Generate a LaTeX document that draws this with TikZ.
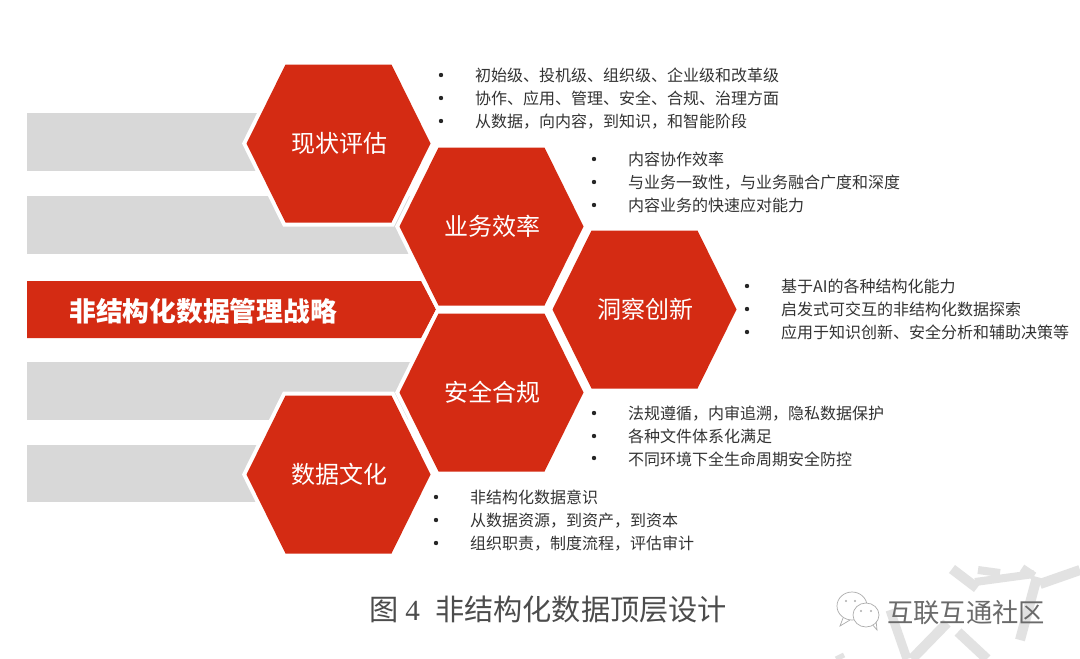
\documentclass[tikz,border=0pt]{standalone}
\usepackage{fontspec}
\setmainfont{Noto Sans CJK SC}
\newfontfamily\latinserif{Liberation Serif}
\definecolor{hexred}{HTML}{D42B13}
\definecolor{bargrey}{HTML}{D8D8D8}
\definecolor{txt}{HTML}{333333}
\definecolor{wm}{HTML}{E2E2E2}
\tikzset{
  x=1pt,y=-1pt,
  hexlabel/.style={text=white,font=\fontsize{24}{24}\selectfont,inner sep=0pt,anchor=center},
  bulletlist/.style={text=txt,font=\fontsize{16}{23}\selectfont,anchor=north west,align=left,inner sep=0pt,text width=#1},
  dotmark/.style={circle,fill=black!85,inner sep=0pt,minimum size=4.4pt},
  wmstroke/.style={draw=wm,line width=#1},
  logoline/.style={draw=gray!65,line width=.7pt,fill=white},
}
\newcommand{\hexpath}[2]{(#1-53,#2-79) -- (#1+53,#2-79) -- (#1+92,#2) -- (#1+53,#2+79) -- (#1-53,#2+79) -- (#1-92,#2) -- cycle}
\begin{document}
\begin{tikzpicture}
\useasboundingbox (0,0) rectangle (1080,659);
\fill[white] (0,0) rectangle (1080,659);
% watermark
\draw[wmstroke=10pt] (952,569) -- (977,588);
\draw[wmstroke=8pt] (978,570) -- (1000,573);
\draw[wmstroke=8pt] (975,582) -- (1034,574);
\draw[wmstroke=8pt] (1022,568) -- (1034,576);
\draw[wmstroke=10pt] (1040,584) -- (1080,570);
\draw[wmstroke=10pt] (1037,577) -- (1020,640);
\draw[wmstroke=9pt] (890,610) -- (907,659);
\draw[wmstroke=10pt] (947,623) -- (912,659);
\draw[wmstroke=10pt] (958,632) -- (987,659);
\draw[wmstroke=5pt] (836,659) -- (844,655);
% bars
\fill[bargrey] (27,113) rectangle (300,171);
\fill[bargrey] (27,196) rectangle (460,254);
\fill[hexred] (27,281) -- (421,281) -- (436,309.5) -- (421,338) -- (27,338) -- cycle;
\node[text=white,font=\fontsize{26.8}{26.8}\selectfont\bfseries,inner sep=0pt,anchor=west] (title) at (69,311) {非结构化数据管理战略};
\fill[bargrey] (27,362) rectangle (460,420);
\fill[bargrey] (27,445) rectangle (300,502);
% hexagons
\foreach \n/\cx/\cy/\lab in {a/338.5/143.5/现状评估, b/491.5/226.5/业务效率, c/644.5/309.5/洞察创新, d/491.5/392.5/安全合规, e/338.5/474.5/数据文化}{
  \draw[white,line width=8pt,line join=miter] \hexpath{\cx}{\cy};
}
\foreach \n/\cx/\cy/\lab in {a/338.5/143.5/现状评估, b/491.5/226.5/业务效率, c/644.5/309.5/洞察创新, d/491.5/392.5/安全合规, e/338.5/474.5/数据文化}{
  \fill[hexred] \hexpath{\cx}{\cy};
  \node[hexlabel] (\n) at (\cx+1,\cy) {\lab};
}
% lists
\node[bulletlist=340pt] (la) at (475,67.5) {初始级、投机级、组织级、企业级和改革级\\协作、应用、管理、安全、合规、治理方面\\从数据，向内容，到知识，和智能阶段};
\foreach \y in {75,98,121} \node[dotmark] at (441,\y) {};
\node[bulletlist=340pt] (lb) at (628,151.5) {内容协作效率\\与业务一致性，与业务融合广度和深度\\内容业务的快速应对能力};
\foreach \y in {159,182,205} \node[dotmark] at (594,\y) {};
\node[bulletlist=300pt] (lc) at (781,278.5) {基于AI的各种结构化能力\\启发式可交互的非结构化数据探索\\应用于知识创新、安全分析和辅助决策等};
\foreach \y in {286,309,332} \node[dotmark] at (747,\y) {};
\node[bulletlist=340pt] (ld) at (628,405.5) {法规遵循，内审追溯，隐私数据保护\\各种文件体系化满足\\不同环境下全生命周期安全防控};
\foreach \y in {413,436,458} \node[dotmark] at (594,\y) {};
\node[bulletlist=340pt] (le) at (470,489.5) {非结构化数据意识\\从数据资源，到资产，到资本\\组织职责，制度流程，评估审计};
\foreach \y in {497,520,543} \node[dotmark] at (436,\y) {};
% caption
\node[text=black!70,font=\fontsize{29.2}{29.2}\selectfont,inner sep=0pt,anchor=west] (cap) at (369,610) {图\hspace{7pt}{\latinserif 4}\hspace{15pt}非结构化数据顶层设计};
% logo
\draw[logoline] (843,618) -- (840,626) -- (850,620);
\draw[logoline] (852,606) ellipse (15 and 14);
\draw[logoline] (872,624) -- (877,630) -- (876,620);
\draw[logoline] (866,615) ellipse (13 and 12);
\fill[gray!65] (846,601) circle (1.1) (855,601) circle (1.1) (861,611) circle (1.1) (871,611) circle (1.1);
\node[text=black!58,font=\fontsize{26.3}{26.3}\selectfont,inner sep=0pt,anchor=west] (mark) at (887,613) {互联互通社区};
\end{tikzpicture}
\end{document}
